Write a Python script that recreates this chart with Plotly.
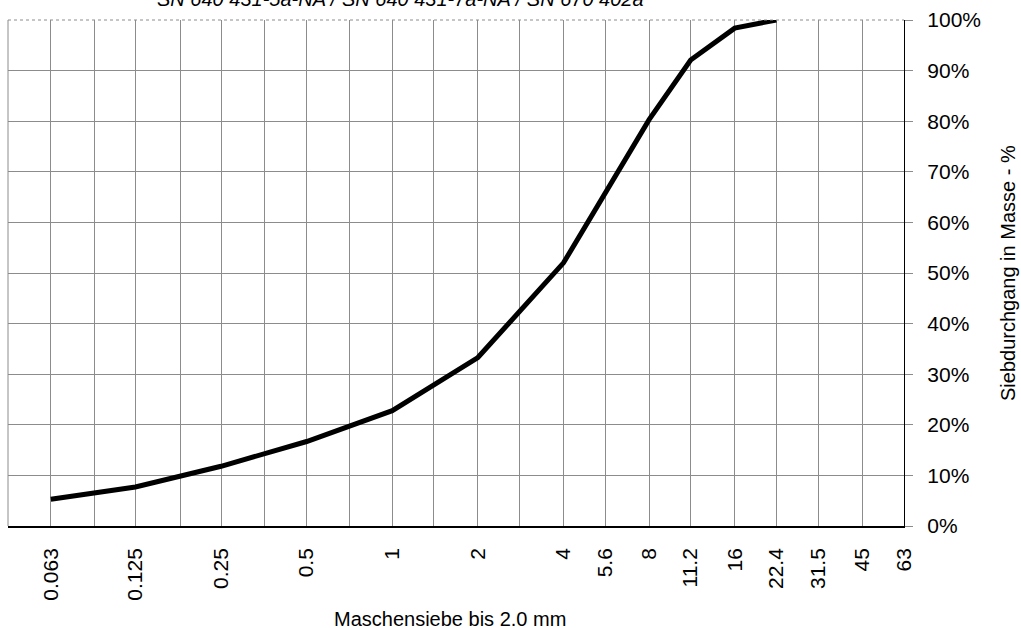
import plotly.graph_objects as go
import math

# Sieve slots (equal spacing on the log axis), labelled ones shown
slot_sieves = [0.063, 0.09, 0.125, 0.18, 0.25, 0.355, 0.5, 0.71, 1, 1.4, 2, 2.8,
               4, 5.6, 8, 11.2, 16, 22.4, 31.5, 45, 63]
labelled = [0.063, 0.125, 0.25, 0.5, 1, 2, 4, 5.6, 8, 11.2, 16, 22.4, 31.5, 45, 63]

# Grading curve
sieve_mm = [0.063, 0.125, 0.25, 0.5, 1, 2, 4, 5.6, 8, 11.2, 16, 22.4]
passing = [0.053, 0.077, 0.118, 0.167, 0.228, 0.333, 0.520, 0.656, 0.803, 0.921, 0.984, 1.0]

y_ticks = [i / 10 for i in range(11)]

title_text = "SN 640 431-5a-NA / SN 640 431-7a-NA / SN 670 402a"
x_title = "Maschensiebe bis 2.0 mm"
y_title = "Siebdurchgang in Masse - %"

FONT = "Liberation Sans, Arial, sans-serif"
W, H = 1021, 628
L, R, T, B = 8, 904, 18, 526

fig = go.Figure()
fig.add_trace(go.Scatter(
    x=sieve_mm, y=passing, mode="lines",
    line=dict(color="black", width=5),
    hoverinfo="skip", showlegend=False,
))

ticktext = [("%g" % v) if v in labelled else "" for v in slot_sieves]

left_edge = math.log10(0.063) - math.log10(2) / 2
fig.update_layout(
    width=W, height=H,
    margin=dict(l=L, r=W - R, t=T, b=H - B, pad=0),
    paper_bgcolor="white", plot_bgcolor="white",
    font=dict(family=FONT, color="black"),
    showlegend=False,
    xaxis=dict(
        type="log",
        range=[left_edge, math.log10(63)],
        tickmode="array", tickvals=slot_sieves, ticktext=ticktext,
        tickangle=-90, tickfont=dict(size=21, family=FONT, color="black"),
        ticks="", ticklabelstandoff=12,
        showgrid=True, gridcolor="#8c8c8c", gridwidth=1,
        showline=True, linecolor="black", linewidth=1.5,
        mirror=False, zeroline=False, fixedrange=True,
    ),
    yaxis=dict(
        side="right",
        range=[0, 1],
        tickmode="array", tickvals=y_ticks,
        tickformat=".0%",
        tickfont=dict(size=21, family=FONT, color="black"),
        ticks="outside", ticklen=8, tickcolor="#8c8c8c", tickwidth=1,
        ticklabelstandoff=10,
        showgrid=True, gridcolor="#8c8c8c", gridwidth=1,
        showline=True, linecolor="black", linewidth=1.2,
        zeroline=False, fixedrange=True,
    ),
    shapes=[
        dict(type="line", xref="paper", yref="paper", x0=0, x1=1, y0=1, y1=1,
             line=dict(color="#8c8c8c", width=1, dash="dot")),
        dict(type="line", xref="paper", yref="paper", x0=0, x1=0, y0=0, y1=1,
             line=dict(color="#8c8c8c", width=1)),
    ],
    annotations=[
        dict(text="<i>" + title_text + "</i>", xref="paper", yref="paper",
             x=(400 - L) / (R - L), y=1, xanchor="center", yanchor="bottom",
             yshift=8, showarrow=False, font=dict(size=20, family=FONT, color="black")),
        dict(text=x_title, xref="paper", yref="paper",
             x=(450 - L) / (R - L), y=(B - 619) / (B - T), xanchor="center", yanchor="middle",
             showarrow=False, font=dict(size=20, family=FONT, color="black")),
        dict(text=y_title, xref="paper", yref="paper",
             x=(1008 - L) / (R - L), y=0.5, xanchor="center", yanchor="middle",
             textangle=-90, showarrow=False, font=dict(size=20, family=FONT, color="black")),
    ],
)

fig.write_html("out.html")
